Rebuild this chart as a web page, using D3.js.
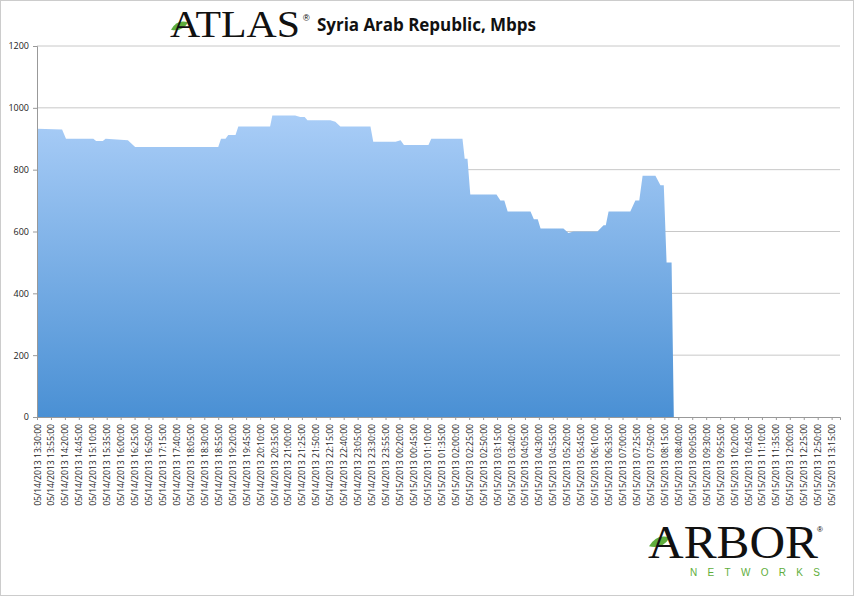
<!DOCTYPE html><html><head><meta charset="utf-8"><script src="https://cdn.jsdelivr.net/npm/d3@7"></script>
<style>body{margin:0;background:#fff}svg{display:block}</style></head><body><svg id="c" width="854" height="596"></svg>
<script>
const minutes=[0,45,52,101,106,118,123,163,176,181,325,330,338,343,356,361,418,422,463,472,480,485,526,535,544,598,603,643,652,658,702,707,763,767,772,777,824,831,838,844,885,891,898,903,944,953,962,1005,1016,1020,1025,1064,1073,1080,1086,1109,1118,1124,1129,1138,1142];
const mbps=[932,930,900,900,893,893,900,895,873,873,873,900,900,912,912,940,940,975,975,970,970,960,960,955,940,940,890,890,895,880,880,900,900,835,835,720,720,700,700,665,665,640,640,610,610,595,600,600,620,620,665,665,700,700,780,780,750,750,500,500,0];
const yTicks=[0,200,400,600,800,1000,1200];
const tickLabels=["13:30","13:55","14:20","14:45","15:10","15:35","16:00","16:25","16:50","17:15","17:40","18:05","18:30","18:55","19:20","19:45","20:10","20:35","21:00","21:25","21:50","22:15","22:40","23:05","23:30","23:55","00:20","00:45","01:10","01:35","02:00","02:25","02:50","03:15","03:40","04:05","04:30","04:55","05:20","05:45","06:10","06:35","07:00","07:25","07:50","08:15","08:40","09:05","09:30","09:55","10:20","10:45","11:10","11:35","12:00","12:25","12:50","13:15"];
const svg=d3.select("#c");
svg.append("rect").attr("x",0).attr("y",0).attr("width",854).attr("height",596).attr("fill","none").attr("stroke","#ccc").attr("stroke-width",2);
const x=d3.scaleLinear().domain([0,1440]).range([37,840]);
const y=d3.scaleLinear().domain([0,1200]).range([417,46]);
const defs=svg.append("defs");
const g=defs.append("linearGradient").attr("id","gr").attr("x1",0).attr("y1",0).attr("x2",0).attr("y2",1);
g.append("stop").attr("offset","0").attr("stop-color","#a9cdf7");
g.append("stop").attr("offset","1").attr("stop-color","#4a90d4");
svg.append("g").selectAll("line").data(yTicks.slice(1)).join("line")
 .attr("x1",37).attr("x2",840).attr("y1",d=>y(d)).attr("y2",d=>y(d)).attr("stroke","#c8c8c8");
const data=minutes.map((m,i)=>[m,mbps[i]]);
svg.append("path").datum(data).attr("fill","url(#gr)")
 .attr("d",d3.area().x(d=>x(d[0])).y0(y(0)).y1(d=>y(d[1])));
const ya=svg.append("g").attr("transform","translate(37,0)").call(d3.axisLeft(y).tickValues(yTicks).tickFormat(d3.format("d")).tickSize(4).tickPadding(4));
ya.selectAll("text").attr("font-family","Open Sans, sans-serif").attr("font-size",9).attr("fill","#222");
ya.selectAll("line,path").attr("stroke","#999");
const xa=svg.append("g").attr("transform","translate(0,417)").call(d3.axisBottom(x).tickValues(tickLabels.map((t,i)=>i*25)).tickSize(3).tickFormat((d,i)=>(i<26?"05/14/2013 ":"05/15/2013 ")+tickLabels[i]+":00"));
xa.selectAll("line,path").attr("stroke","#999");
xa.selectAll("text").attr("font-family","Open Sans, sans-serif").attr("font-size",8.6).attr("fill","#222")
 .attr("transform","rotate(-90)").attr("text-anchor","end").attr("dy","0.35em").attr("y",0).attr("x",-7);
function leaf(cx,cy,s){svg.append("path").attr("d",`M${cx-10*s},${cy+3*s} Q${cx-3*s},${cy-9*s} ${cx+9*s},${cy-5*s} Q${cx+2*s},${cy+6*s} ${cx-10*s},${cy+3*s}Z`).attr("fill","#5fae3c");}
leaf(180,27,0.9);
svg.append("text").attr("x",170).attr("y",37).attr("font-family","Liberation Serif, serif").attr("font-size",38).attr("fill","#111").attr("textLength",130).attr("lengthAdjust","spacingAndGlyphs").text("ATLAS");
svg.append("text").attr("x",303).attr("y",21).attr("font-family","Liberation Sans").attr("font-size",9).text("®");
svg.append("text").attr("x",317).attr("y",31).attr("font-family","Open Sans, sans-serif").attr("font-weight","bold").attr("font-size",17).attr("fill","#111").attr("textLength",219).text("Syria Arab Republic, Mbps");
leaf(660,543,1.1);
svg.append("text").attr("x",648).attr("y",558).attr("font-family","Liberation Serif, serif").attr("font-size",46).attr("fill","#111").attr("textLength",170).attr("lengthAdjust","spacingAndGlyphs").text("ARBOR");
svg.append("text").attr("x",817).attr("y",532).attr("font-family","Liberation Sans").attr("font-size",8).text("®");
svg.append("text").attr("x",690).attr("y",576).attr("font-family","Liberation Sans, sans-serif").attr("font-size",10).attr("fill","#5fae3c").attr("textLength",130).text("NETWORKS");
</script></body></html>
